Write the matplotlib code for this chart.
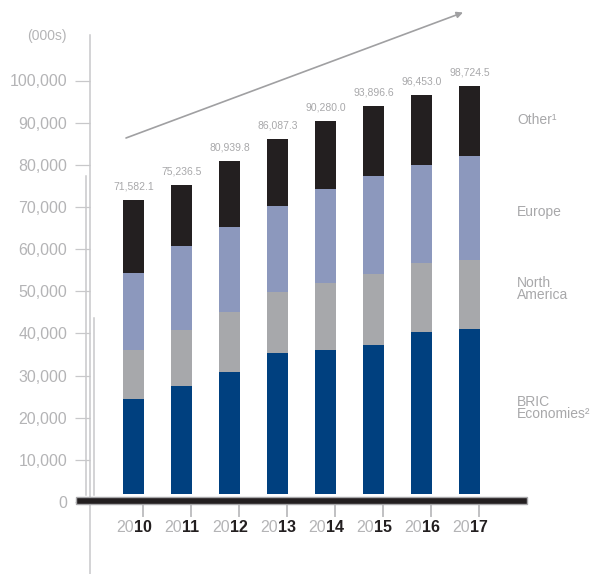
import matplotlib
matplotlib.use('Agg')
import matplotlib.pyplot as plt
from matplotlib.patches import Rectangle

# ---------------- data ----------------
years = ['2010', '2011', '2012', '2013', '2014', '2015', '2016', '2017']
bric = [24440, 27520, 30840, 35350, 36060, 37250, 40330, 41040]
north_america = [11620, 13290, 14240, 14470, 15900, 16840, 16370, 16370]
europe = [18270, 19930, 20160, 20400, 22300, 23250, 23250, 24680]
other = [17252, 14497, 15700, 15867, 16020, 16557, 16503, 16635]
totals = [71582.1, 75236.5, 80939.8, 86087.3, 90280.0, 93896.6, 96453.0, 98724.5]
total_labels = ['71,582.1', '75,236.5', '80,939.8', '86,087.3',
                '90,280.0', '93,896.6', '96,453.0', '98,724.5']
series_names = ['BRIC\nEconomies²', 'North\nAmerica', 'Europe', 'Other¹']
yticks = [0, 10000, 20000, 30000, 40000, 50000, 60000, 70000, 80000, 90000, 100000]
unit_label = '(000s)'

# ---------------- style ----------------
FONT = ['Liberation Sans Narrow', 'Liberation Sans', 'DejaVu Sans']
plt.rcParams['font.family'] = FONT
colors = ['#00407f', '#a7a8ab', '#8c98bd', '#231f20']
light = '#b4b4b6'
linec = '#c8c8ca'

W, H = 603, 574
fig = plt.figure(figsize=(W / 100, H / 100), dpi=100)

# pixel geometry
PX_L, PX_R, PY_TOP, PY0 = 90, 527, 35, 502
SCALE = 0.004215        # pixels per unit
X0, STEP = 133.5, 48.0  # first bar centre, spacing (px)

ax = fig.add_axes([PX_L / W, (H - PY0) / H, (PX_R - PX_L) / W, (PY0 - PY_TOP) / H])
ax.set_autoscale_on(False)
YLIM = (0, (PY0 - PY_TOP) / SCALE)
XLIM = ((PX_L - X0) / STEP, (PX_R - X0) / STEP)
ax.set_ylim(*YLIM)
ax.set_xlim(*XLIM)


def dx(px):
    return (px - X0) / STEP


def dy(py):
    return (PY0 - py) / SCALE


x = list(range(len(years)))
bw = 21 / STEP
bottom = [0.0] * len(years)
for vals, c in zip([bric, north_america, europe, other], colors):
    ax.bar(x, vals, bw, bottom=bottom, color=c, linewidth=0, zorder=2)
    bottom = [b + v for b, v in zip(bottom, vals)]

# white gap above axis band
ax.add_patch(Rectangle((dx(100), dy(504)), dx(520) - dx(100), dy(493.5) - dy(504),
                       facecolor='white', edgecolor='none', zorder=3, clip_on=False))
# thick axis band
ax.add_patch(Rectangle((dx(75.5), dy(503.5)), dx(527) - dx(75.5), dy(496.5) - dy(503.5),
                       facecolor='#231f20', edgecolor='#a8a8aa', linewidth=1.0,
                       zorder=5, clip_on=False))

# total labels
for i, (t, lab) in enumerate(zip(totals, total_labels)):
    ax.text(i, t + 13.5 / SCALE, lab, ha='center', va='center', fontsize=7.5,
            color='#a8a8aa', zorder=6)

# axis lines
for sp in ax.spines.values():
    sp.set_visible(False)
ax.plot([dx(90), dx(90)], [dy(35), dy(574)], color=linec, lw=1.1, clip_on=False, zorder=1)
ax.plot([dx(86), dx(86)], [dy(176), dy(495)], color=linec, lw=1.1, clip_on=False, zorder=1)
ax.plot([dx(93.5), dx(93.5)], [dy(318), dy(495)], color=linec, lw=1.1, clip_on=False, zorder=1)

ax.set_yticks(yticks)
ax.set_yticklabels([f'{v:,}' for v in yticks], fontsize=11.5, color=light)
ax.tick_params(axis='y', direction='out', length=11, width=0.9, color=linec, pad=5.5)
ax.set_xticks([])

# x tick marks and year labels
for i, yr in enumerate(years):
    xr = i + 0.2
    ax.plot([xr, xr], [dy(504), dy(516)], color='#c0c0c2', lw=1.4, clip_on=False, zorder=4)
    ax.text(i + 0.01, dy(532.5), yr[:2], ha='right', va='baseline', fontsize=11.5,
            color=light, clip_on=False)
    ax.text(i + 0.01, dy(532.5), yr[2:], ha='left', va='baseline', fontsize=11.5,
            color='#231f20', fontweight='bold', clip_on=False)

# unit label
ax.text(dx(67), dy(36), unit_label, ha='right', va='center', fontsize=10, color=light,
        clip_on=False)

# series labels on right
label_y = [408, 289, 212, 120]
for name, py in zip(series_names, label_y):
    ax.text(dx(517), dy(py), name, ha='left', va='center', fontsize=10, color='#a8a8aa',
            linespacing=0.9, clip_on=False)

# trend arrow
ax.annotate('', xy=(dx(463), dy(12.5)), xytext=(dx(126), dy(138)),
            arrowprops=dict(arrowstyle='-|>', color='#a0a0a2', lw=1.2,
                            mutation_scale=9, shrinkA=0, shrinkB=0),
            annotation_clip=False)

ax.set_ylim(*YLIM)
ax.set_xlim(*XLIM)

fig.savefig('out.png', dpi=100)
